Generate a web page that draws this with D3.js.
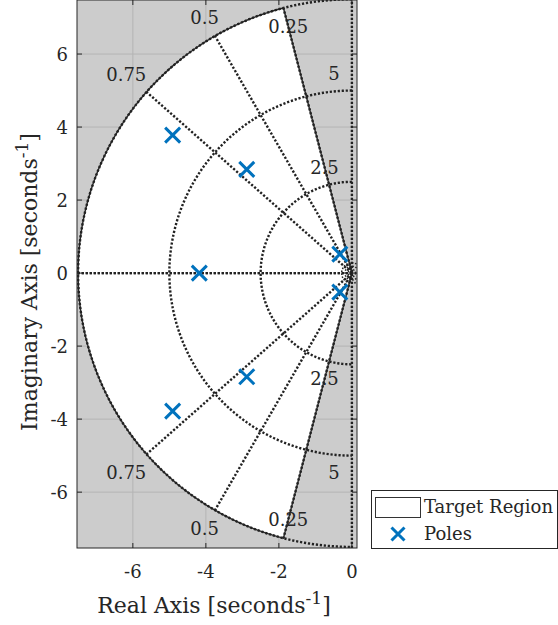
<!DOCTYPE html>
<html>
<head>
<meta charset="utf-8">
<script src="https://cdn.jsdelivr.net/npm/d3@7"></script>
<style>
  body { margin: 0; background: #fff; }
  svg text { font-family: 'DejaVu Serif', serif; fill: #262626; }
</style>
</head>
<body>
<div id="chart"></div>
<script>
// Pole locations (real, imag)
const poleRe = [-4.91, -2.88, -4.18, -0.33, -0.33, -2.88, -4.91];
const poleIm = [3.78, 2.84, 0, 0.52, -0.52, -2.84, -3.78];

// sgrid damping ratios and natural frequencies
const zetas = [0.25, 0.5, 0.75, 1];
const wns = [2.5, 5, 7.5];
const tinyWns = [0.1, 0.19, 0.28];
const zetaLabels = ['0.25', '0.5', '0.75'];
const zetaLabelR = [6.97, 8.07, 8.24];
const wnLabels = ['2.5', '5'];
const wnLabelPos = [[-0.75, 2.90], [-0.49, 5.47]];

// target region: zeta >= 0.25, wn <= 7.5
const regionZeta = 0.25;
const regionWn = 7.5;

const xTicks = [-6, -4, -2, 0];
const yTicks = [-6, -4, -2, 0, 2, 4, 6];

const W = 558, H = 625;
const mL = 77, mR = 357, mT = 0, mB = 548;

const x = d3.scaleLinear().domain([-7.53, 0.14]).range([mL, mR]);
const y = d3.scaleLinear().domain([-7.53, 7.48]).range([mB, mT]);

const svg = d3.select('#chart').append('svg')
  .attr('width', W)
  .attr('height', H);

svg.append('clipPath').attr('id', 'plotclip')
  .append('rect')
  .attr('x', mL).attr('y', mT)
  .attr('width', mR - mL).attr('height', mB - mT);

// background
svg.append('rect')
  .attr('x', mL).attr('y', mT)
  .attr('width', mR - mL).attr('height', mB - mT)
  .attr('fill', '#cccccc');

// light grid
const gG = svg.append('g').attr('class', 'grid');
xTicks.forEach((t) => {
  gG.append('line')
    .attr('x1', x(t)).attr('x2', x(t))
    .attr('y1', mT).attr('y2', mB)
    .attr('stroke', '#b4b4b4').attr('stroke-width', 1);
});
yTicks.forEach((t) => {
  gG.append('line')
    .attr('x1', mL).attr('x2', mR)
    .attr('y1', y(t)).attr('y2', y(t))
    .attr('stroke', '#b4b4b4').attr('stroke-width', 1);
});

const plot = svg.append('g').attr('clip-path', 'url(#plotclip)');

// Target region patch
const th0 = Math.acos(regionZeta);
const regionPts = [[0, 0]];
for (let i = 0; i <= 120; i++) {
  const th = th0 - (2 * th0) * i / 120;
  regionPts.push([-regionWn * Math.cos(th), regionWn * Math.sin(th)]);
}
regionPts.push([0, 0]);
const line = d3.line().x(d => x(d[0])).y(d => y(d[1]));
plot.append('path')
  .attr('d', line(regionPts))
  .attr('fill', '#ffffff')
  .attr('stroke', '#262626')
  .attr('stroke-width', 1.4);

// sgrid
const gS = plot.append('g').attr('class', 'sgrid')
  .attr('fill', 'none')
  .attr('stroke', '#222222')
  .attr('stroke-width', 2.4)
  .attr('stroke-dasharray', '2.2,1.8');

const maxWn = wns[wns.length - 1];
zetas.forEach((z) => {
  const th = Math.acos(z);
  [1, -1].forEach((s) => {
    gS.append('path')
      .attr('d', line([[0, 0], [-maxWn * Math.cos(th), s * maxWn * Math.sin(th)]]));
  });
});
// imaginary axis (zeta = 0)
gS.append('path').attr('d', line([[0, -7.53], [0, 7.48]]));

wns.forEach((w) => {
  const pts = [];
  for (let i = 0; i <= 180; i++) {
    const th = Math.PI / 2 + Math.PI * i / 180;
    pts.push([w * Math.cos(th), w * Math.sin(th)]);
  }
  gS.append('path').attr('d', line(pts));
});
tinyWns.forEach((w) => {
  gS.append('circle')
    .attr('cx', x(0)).attr('cy', y(0))
    .attr('r', x(w) - x(0))
    .attr('stroke-dasharray', '1.5,1.5')
    .attr('stroke-width', 1.5);
});

// sgrid labels
const gL = svg.append('g').attr('class', 'sgrid-labels');
zetaLabels.forEach((lab, i) => {
  const th = Math.acos(zetas[i]);
  [1, -1].forEach((s) => {
    gL.append('text')
      .attr('x', x(-zetaLabelR[i] * Math.cos(th)))
      .attr('y', y(s * zetaLabelR[i] * Math.sin(th)))
      .attr('text-anchor', 'middle')
      .attr('dominant-baseline', 'central')
      .attr('font-size', 18)
      .text(lab);
  });
});
wnLabels.forEach((lab, i) => {
  [1, -1].forEach((s) => {
    gL.append('text')
      .attr('x', x(wnLabelPos[i][0]))
      .attr('y', y(s * wnLabelPos[i][1]))
      .attr('text-anchor', 'middle')
      .attr('dominant-baseline', 'central')
      .attr('font-size', 18)
      .text(lab);
  });
});

// poles
const cross = (g, cx, cy, r) => {
  g.append('path')
    .attr('d', `M${cx - r},${cy - r}L${cx + r},${cy + r}M${cx - r},${cy + r}L${cx + r},${cy - r}`)
    .attr('stroke', '#0072BD')
    .attr('stroke-width', 3)
    .attr('fill', 'none');
};
const gP = plot.append('g').attr('class', 'poles');
poleRe.forEach((re, i) => {
  cross(gP, x(re), y(poleIm[i]), 7.5);
});

// axes box + ticks
const gA = svg.append('g').attr('class', 'axes');
gA.append('rect')
  .attr('x', mL).attr('y', mT)
  .attr('width', mR - mL).attr('height', mB - mT)
  .attr('fill', 'none')
  .attr('stroke', '#262626')
  .attr('stroke-width', 1);
xTicks.forEach((t) => {
  gA.append('line')
    .attr('x1', x(t)).attr('x2', x(t))
    .attr('y1', mB).attr('y2', mB - 5)
    .attr('stroke', '#262626');
  gA.append('line')
    .attr('x1', x(t)).attr('x2', x(t))
    .attr('y1', mT).attr('y2', mT + 5)
    .attr('stroke', '#262626');
  gA.append('text')
    .attr('x', x(t))
    .attr('y', 578)
    .attr('text-anchor', 'middle')
    .attr('font-size', 18)
    .text(t);
});
yTicks.forEach((t) => {
  gA.append('line')
    .attr('x1', mL).attr('x2', mL + 5)
    .attr('y1', y(t)).attr('y2', y(t))
    .attr('stroke', '#262626');
  gA.append('line')
    .attr('x1', mR).attr('x2', mR - 5)
    .attr('y1', y(t)).attr('y2', y(t))
    .attr('stroke', '#262626');
  gA.append('text')
    .attr('x', 68)
    .attr('y', y(t))
    .attr('text-anchor', 'end')
    .attr('dominant-baseline', 'central')
    .attr('font-size', 18)
    .text(t);
});

// axis labels
const xl = svg.append('text')
  .attr('x', 214)
  .attr('y', 613)
  .attr('text-anchor', 'middle')
  .attr('font-size', 22);
xl.append('tspan').text('Real Axis [seconds');
xl.append('tspan').attr('dy', -9).attr('font-size', 17).text('-1');
xl.append('tspan').attr('dy', 9).text(']');

const yl = svg.append('text')
  .attr('transform', `translate(37,${(mT + mB) / 2 - 9 + 17}) rotate(-90)`)
  .attr('text-anchor', 'middle')
  .attr('font-size', 22);
yl.append('tspan').text('Imaginary Axis [seconds');
yl.append('tspan').attr('dy', -9).attr('font-size', 17).text('-1');
yl.append('tspan').attr('dy', 9).text(']');

// Legend
const gLeg = svg.append('g').attr('class', 'legend');
gLeg.append('rect')
  .attr('x', 371.5).attr('y', 490.5)
  .attr('width', 186).attr('height', 58)
  .attr('fill', '#ffffff')
  .attr('stroke', '#262626')
  .attr('stroke-width', 1);
gLeg.append('rect')
  .attr('x', 375.5).attr('y', 497.5)
  .attr('width', 45).attr('height', 20)
  .attr('fill', '#ffffff')
  .attr('stroke', '#333333')
  .attr('stroke-width', 1);
gLeg.append('text')
  .attr('x', 424).attr('y', 513)
  .attr('font-size', 18)
  .text('Target Region');
cross(gLeg, 398, 534, 6.5);
gLeg.append('text')
  .attr('x', 424).attr('y', 540)
  .attr('font-size', 18)
  .text('Poles');
</script>
</body>
</html>
